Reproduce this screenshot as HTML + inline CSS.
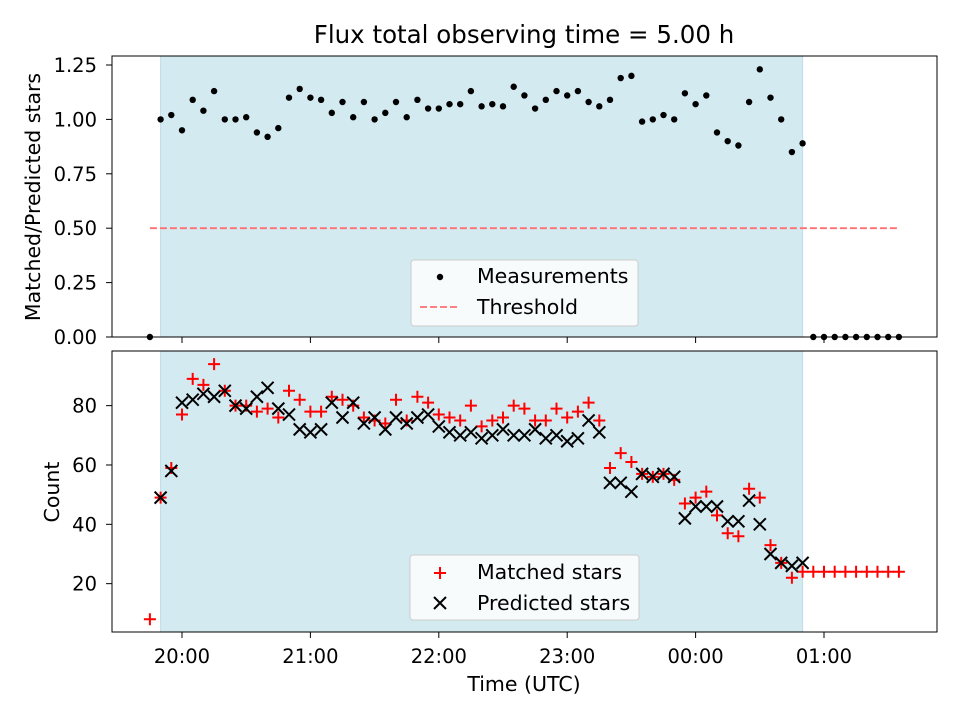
<!DOCTYPE html>
<html><head><meta charset="utf-8"><style>
body{margin:0;background:#fff;}
svg text{font-family:"DejaVu Sans","Liberation Sans",sans-serif;fill:#000;}
</style></head><body>
<svg id="c" width="960" height="720" xmlns="http://www.w3.org/2000/svg"></svg>
<script>
// data (minutes relative to 20:00, 5-minute cadence)
const ratioStart = -10;
const ratioValues = [1.00,1.02,0.95,1.09,1.04,1.13,1.00,1.00,1.01,0.94,0.92,0.96,1.10,1.14,1.10,1.09,1.03,1.08,1.01,1.08,1.00,1.03,1.08,1.01,1.09,1.05,1.05,1.07,1.07,1.13,1.06,1.07,1.06,1.15,1.11,1.05,1.09,1.13,1.11,1.13,1.08,1.06,1.09,1.19,1.20,0.99,1.00,1.02,1.00,1.12,1.07,1.11,0.94,0.90,0.88,1.08,1.23,1.10,1.00,0.85,0.89];
const zeroTimes = [-15,295,300,305,310,315,320,325,330,335];
const threshold = 0.5;
const matchedStart = -15;
const matchedValues = [8,49,59,77,89,87,94,85,80,80,78,79,76,85,82,78,78,83,82,80,76,75,74,82,75,83,81,77,76,75,80,73,75,76,80,79,75,75,79,76,78,81,75,59,64,61,57,56,57,55,47,49,51,43,37,36,52,49,33,27,22,24,24,24,24,24,24,24,24,24,24];
const predictedStart = -10;
const predictedValues = [49,58,81,82,84,83,85,80,79,83,86,79,77,72,71,72,81,76,81,74,76,72,76,74,76,77,73,71,70,71,69,70,72,70,70,72,69,70,68,69,75,71,54,54,51,57,56,57,56,42,46,46,46,41,41,48,40,30,27,26,27];
const xTickLabels = ["20:00","21:00","22:00","23:00","00:00","01:00"];
const xTickMinutes = [0,60,120,180,240,300];
const topYTicks = [0,0.25,0.5,0.75,1.0,1.25];
const botYTicks = [20,40,60,80];
const shadeRange = [-10,290];

const svg = document.getElementById('c');
const NS = 'http://www.w3.org/2000/svg';
function mk(tag, attrs, parent){const e=document.createElementNS(NS,tag);for(const k in attrs)e.setAttribute(k,attrs[k]);(parent||svg).appendChild(e);return e;}
const L=112,R=937;
const xs = m => 182 + (m/60)*128.4;
const yTop = v => 337 - v*217.6;
const yBot = v => 643 - v*2.967;
const T={t:56,b:337}, B={t:351,b:632};

[T,B].forEach((p,i)=>{
  const r=mk('rect',{x:xs(shadeRange[0]),y:p.t,width:xs(shadeRange[1])-xs(shadeRange[0]),height:p.b-p.t,fill:'#d4eaf1',stroke:'#bcdde8','stroke-width':1});
  
  
});

const th=mk('line',{x1:xs(-15),x2:xs(335),y1:yTop(threshold),y2:yTop(threshold),stroke:'#ff7070','stroke-width':1.8,'stroke-dasharray':'7,3'});



ratioValues.forEach((v,i)=>{
  const c=mk('circle',{cx:xs(ratioStart+5*i),cy:yTop(v),r:3.2,fill:'#000'});
  
  
});
zeroTimes.forEach(t=>{
  const c=mk('circle',{cx:xs(t),cy:yTop(0),r:3.2,fill:'#000'});
  
  
});

matchedValues.forEach((v,i)=>{
  const x=xs(matchedStart+5*i), y=yBot(v);
  const p=mk('path',{d:`M${x-6},${y}H${x+6}M${x},${y-6}V${y+6}`,stroke:'#ff0000','stroke-width':2});
  
  
});
predictedValues.forEach((v,i)=>{
  const x=xs(predictedStart+5*i), y=yBot(v), d=6;
  const p=mk('path',{d:`M${x-d},${y-d}L${x+d},${y+d}M${x-d},${y+d}L${x+d},${y-d}`,stroke:'#000','stroke-width':2});
  
  
});

[T,B].forEach((p,i)=>{
  const r=mk('rect',{x:L,y:p.t,width:R-L,height:p.b-p.t,fill:'none',stroke:'#000','stroke-width':1});
  
  
});

xTickMinutes.forEach((m,i)=>{
  mk('line',{x1:xs(m),x2:xs(m),y1:T.b,y2:T.b+6,stroke:'#000'});
  mk('line',{x1:xs(m),x2:xs(m),y1:B.b,y2:B.b+6,stroke:'#000'});
  const t=mk('text',{x:xs(m),y:663,'text-anchor':'middle','font-size':19.5});
  t.textContent=xTickLabels[i];
  
  
});
topYTicks.forEach(v=>{
  mk('line',{x1:L-6,x2:L,y1:yTop(v),y2:yTop(v),stroke:'#000'});
  const t=mk('text',{x:L-15,y:yTop(v)+7,'text-anchor':'end','font-size':19.5});
  t.textContent=v.toFixed(2);
  
  
});
botYTicks.forEach(v=>{
  mk('line',{x1:L-6,x2:L,y1:yBot(v),y2:yBot(v),stroke:'#000'});
  const t=mk('text',{x:L-15,y:yBot(v)+7,'text-anchor':'end','font-size':19.5});
  t.textContent=String(v);
  
  
});
</script>
<svg width="960" height="720" style="position:absolute;left:0;top:0" xmlns="http://www.w3.org/2000/svg">
<text x="524" y="43" text-anchor="middle" font-size="24.5">Flux total observing time = 5.00 h</text>
<text transform="translate(40,197) rotate(-90)" text-anchor="middle" font-size="20.5">Matched/Predicted stars</text>
<text transform="translate(59,492) rotate(-90)" text-anchor="middle" font-size="20.5">Count</text>
<text x="524" y="691" text-anchor="middle" font-size="20.5">Time (UTC)</text>
<g>
<rect x="411" y="260" width="227" height="66" rx="3" fill="#fff" fill-opacity="0.8" stroke="#ccc"/>
<circle cx="440" cy="277" r="3.2" fill="#000"/>
<text x="477" y="283" font-size="20.5">Measurements</text>
<line x1="420" x2="460" y1="307" y2="307" stroke="#ff7070" stroke-width="1.8" stroke-dasharray="7,3"/>
<text x="477" y="314" font-size="20.5">Threshold</text>
</g>
<g>
<rect x="410" y="555" width="229" height="65" rx="3" fill="#fff" fill-opacity="0.8" stroke="#ccc"/>
<path d="M434,573H446M440,567V579" stroke="#ff0000" stroke-width="2"/>
<text x="477" y="579" font-size="20.5">Matched stars</text>
<path d="M434,597L446,609M434,609L446,597" stroke="#000" stroke-width="2"/>
<text x="477" y="610" font-size="20.5">Predicted stars</text>
</g>
</svg>
</body></html>
